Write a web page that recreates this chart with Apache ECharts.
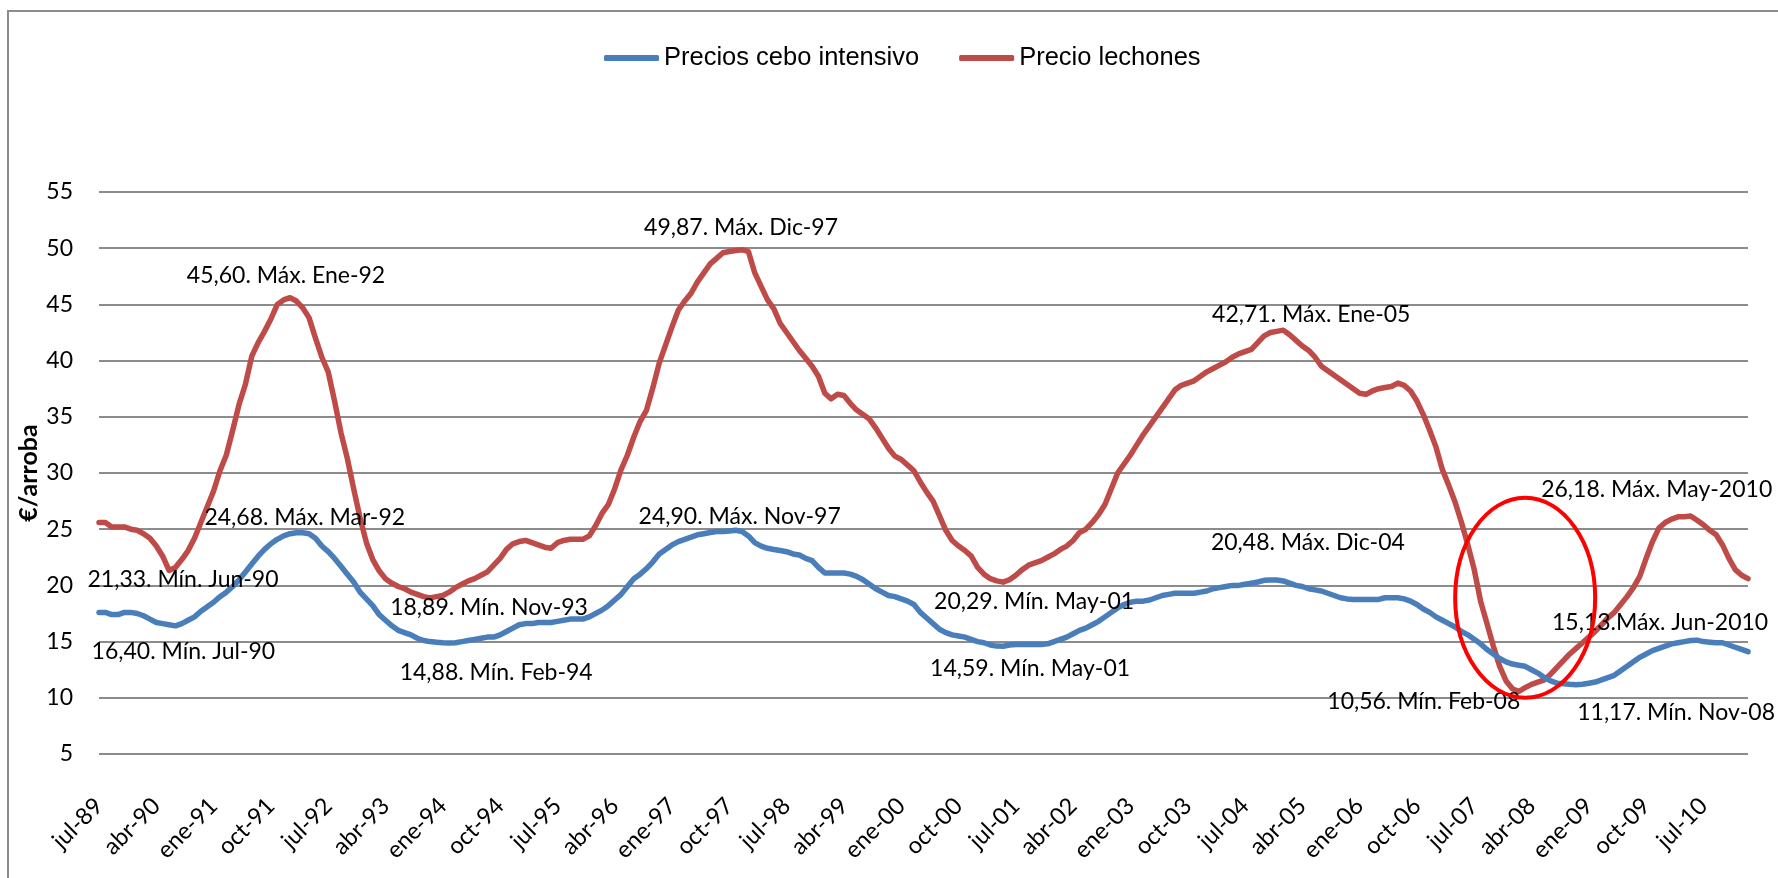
<!DOCTYPE html>
<html>
<head>
<meta charset="utf-8">
<script src="https://cdn.jsdelivr.net/npm/echarts@6/dist/echarts.min.js"></script>
<style>
  html, body { margin: 0; padding: 0; background: #fff; }
  #chart { width: 1778px; height: 878px; }
</style>
</head>
<body>
<div id="chart"></div>
<script>
// Monthly series, jul-89 .. feb-11 (€/arroba)
const monthNames = ['ene', 'feb', 'mar', 'abr', 'may', 'jun', 'jul', 'ago', 'sep', 'oct', 'nov', 'dic'];
const firstYear = 1989;
const firstMonth = 6; // julio

const ceboIntensivo = [
  17.6, 17.6, 17.4, 17.4, 17.6, 17.6, 17.5, 17.3, 17.0, 16.7,
  16.6, 16.5, 16.40, 16.6, 16.9, 17.2, 17.7, 18.1, 18.5, 19.0,
  19.4, 19.9, 20.5, 21.2, 21.9, 22.6, 23.2, 23.7, 24.1, 24.4,
  24.6, 24.68, 24.68, 24.6, 24.2, 23.5, 23.0, 22.4, 21.7, 21.0,
  20.3, 19.4, 18.8, 18.2, 17.4, 16.9, 16.4, 16.0, 15.8, 15.6,
  15.3, 15.1, 15.0, 14.95, 14.9, 14.88, 14.9, 15.0, 15.1, 15.2,
  15.3, 15.4, 15.4, 15.6, 15.9, 16.2, 16.5, 16.6, 16.6, 16.7,
  16.7, 16.7, 16.8, 16.9, 17.0, 17.0, 17.0, 17.2, 17.5, 17.8,
  18.2, 18.7, 19.2, 19.9, 20.6, 21.0, 21.5, 22.1, 22.8, 23.2,
  23.6, 23.9, 24.1, 24.3, 24.5, 24.6, 24.7, 24.8, 24.8, 24.85,
  24.90, 24.8, 24.4, 23.8, 23.5, 23.3, 23.2, 23.1, 23.0, 22.8,
  22.7, 22.4, 22.2, 21.6, 21.1, 21.1, 21.1, 21.1, 21.0, 20.8,
  20.5, 20.1, 19.7, 19.4, 19.1, 19.0, 18.8, 18.6, 18.3, 17.6,
  17.1, 16.6, 16.1, 15.8, 15.6, 15.5, 15.4, 15.2, 15.0, 14.9,
  14.7, 14.6, 14.59, 14.7, 14.75, 14.75, 14.75, 14.75, 14.75, 14.8,
  15.0, 15.2, 15.4, 15.7, 16.0, 16.2, 16.5, 16.8, 17.2, 17.6,
  18.0, 18.3, 18.5, 18.6, 18.6, 18.7, 18.9, 19.1, 19.2, 19.3,
  19.3, 19.3, 19.3, 19.4, 19.5, 19.7, 19.8, 19.9, 20.0, 20.0,
  20.1, 20.2, 20.3, 20.45, 20.48, 20.48, 20.4, 20.2, 20.0, 19.9,
  19.7, 19.6, 19.5, 19.3, 19.1, 18.9, 18.8, 18.75, 18.75, 18.75,
  18.75, 18.75, 18.9, 18.9, 18.9, 18.8, 18.6, 18.3, 17.9, 17.6,
  17.2, 16.9, 16.6, 16.3, 15.9, 15.6, 15.2, 14.8, 14.3, 13.9,
  13.5, 13.2, 13.0, 12.9, 12.8, 12.5, 12.2, 11.8, 11.5, 11.3,
  11.25, 11.2, 11.17, 11.2, 11.3, 11.4, 11.6, 11.8, 12.0, 12.4,
  12.8, 13.2, 13.6, 13.9, 14.2, 14.4, 14.6, 14.8, 14.9, 15.0,
  15.1, 15.13, 15.0, 14.95, 14.9, 14.9, 14.7, 14.5, 14.3, 14.1
];

const precioLechones = [
  25.6, 25.6, 25.2, 25.2, 25.2, 25.0, 24.9, 24.6, 24.2, 23.5,
  22.6, 21.33, 21.6, 22.3, 23.1, 24.2, 25.6, 27.0, 28.4, 30.2,
  31.6, 33.8, 36.1, 37.9, 40.4, 41.6, 42.6, 43.7, 45.0, 45.4,
  45.60, 45.3, 44.7, 43.8, 42.0, 40.3, 39.0, 36.4, 33.6, 31.3,
  28.6, 26.0, 23.8, 22.3, 21.3, 20.6, 20.2, 19.9, 19.7, 19.4,
  19.2, 19.0, 18.89, 19.0, 19.1, 19.4, 19.8, 20.1, 20.4, 20.6,
  20.9, 21.2, 21.8, 22.4, 23.2, 23.7, 23.9, 24.0, 23.8, 23.6,
  23.4, 23.3, 23.8, 24.0, 24.1, 24.1, 24.1, 24.4, 25.3, 26.4,
  27.2, 28.6, 30.3, 31.6, 33.2, 34.6, 35.6, 37.6, 39.8, 41.4,
  43.0, 44.5, 45.3, 46.0, 47.0, 47.8, 48.6, 49.1, 49.6, 49.7,
  49.8, 49.87, 49.7, 47.8, 46.6, 45.4, 44.6, 43.3, 42.5, 41.7,
  40.9, 40.2, 39.5, 38.6, 37.1, 36.6, 37.0, 36.9, 36.2, 35.6,
  35.2, 34.8, 34.0, 33.1, 32.2, 31.5, 31.2, 30.7, 30.2, 29.2,
  28.3, 27.5, 26.2, 24.9, 24.0, 23.5, 23.1, 22.6, 21.6, 21.0,
  20.6, 20.4, 20.29, 20.5, 20.9, 21.4, 21.8, 22.0, 22.2, 22.5,
  22.8, 23.2, 23.5, 24.0, 24.7, 25.0, 25.6, 26.3, 27.2, 28.6,
  30.0, 30.8, 31.6, 32.5, 33.4, 34.2, 35.0, 35.8, 36.6, 37.4,
  37.8, 38.0, 38.2, 38.6, 39.0, 39.3, 39.6, 39.9, 40.3, 40.6,
  40.8, 41.0, 41.6, 42.2, 42.5, 42.6, 42.71, 42.3, 41.8, 41.3,
  40.9, 40.3, 39.5, 39.1, 38.7, 38.3, 37.9, 37.5, 37.1, 37.0,
  37.3, 37.5, 37.6, 37.7, 38.0, 37.8, 37.3, 36.4, 35.2, 33.8,
  32.3, 30.3, 28.9, 27.4, 25.6, 23.6, 21.4, 18.6, 16.6, 14.6,
  12.8, 11.5, 10.8, 10.56, 10.9, 11.2, 11.4, 11.6, 12.1, 12.7,
  13.3, 13.9, 14.4, 14.9, 15.4, 15.9, 16.5, 17.1, 17.6, 18.3,
  19.0, 19.8, 20.8, 22.4, 23.9, 25.1, 25.6, 25.9, 26.1, 26.1,
  26.18, 25.8, 25.4, 24.9, 24.5, 23.6, 22.4, 21.4, 20.9, 20.6
];

// Highlighted extremes: month and caption after the value
const extremosCebo = [
  { month: 'jul-90', tag: 'Mín. Jul-90' },
  { month: 'mar-92', tag: 'Máx. Mar-92' },
  { month: 'feb-94', tag: 'Mín. Feb-94' },
  { month: 'nov-97', tag: 'Máx. Nov-97' },
  { month: 'may-01', tag: 'Mín. May-01' },
  { month: 'dic-04', tag: 'Máx. Dic-04' },
  { month: 'nov-08', tag: 'Mín. Nov-08' },
  { month: 'jun-10', tag: 'Máx. Jun-2010', sep: '' }
];
const extremosLechones = [
  { month: 'jun-90', tag: 'Mín. Jun-90' },
  { month: 'ene-92', tag: 'Máx. Ene-92' },
  { month: 'nov-93', tag: 'Mín. Nov-93' },
  { month: 'dic-97', tag: 'Máx. Dic-97' },
  { month: 'may-01', tag: 'Mín. May-01' },
  { month: 'ene-05', tag: 'Máx. Ene-05' },
  { month: 'feb-08', tag: 'Mín. Feb-08' },
  { month: 'may-10', tag: 'Máx. May-2010' }
];

// Label placement (pixel offset of the caption centre from its point)
const offsetsCebo = {
  'jul-90': [8, 26], 'mar-92': [2, -15], 'feb-94': [47, 30], 'nov-97': [4, -14],
  'may-01': [27, 22], 'dic-04': [31, -37], 'nov-08': [100, 28], 'jun-10': [-37, -18]
};
const offsetsLechones = {
  'jun-90': [14, 9], 'ene-92': [-4, -22], 'nov-93': [59, 10], 'dic-97': [-1, -22],
  'may-01': [31, 19], 'ene-05': [28, -16], 'feb-08': [-95, 10], 'may-10': [-34, -26]
};

const months = ceboIntensivo.map(function (_, i) {
  const m = firstMonth + i;
  const year = firstYear + Math.floor(m / 12);
  return monthNames[m % 12] + '-' + String(year % 100).padStart(2, '0');
});

function fmt(v) { return v.toFixed(2).replace('.', ','); }

function marks(values, list, offsets) {
  return list.map(function (e) {
    const idx = months.indexOf(e.month);
    const v = values[idx];
    return {
      coord: [idx, v],
      label: {
        formatter: fmt(v) + '.' + (e.sep === undefined ? ' ' : e.sep) + e.tag,
        offset: offsets[e.month]
      }
    };
  });
}

const labelFont = 'Lato, "Noto Sans", sans-serif';
const markStyle = {
  symbol: 'circle',
  symbolSize: 1,
  itemStyle: { color: 'rgba(0,0,0,0)' },
  label: {
    show: true,
    position: 'inside',
    color: '#000',
    fontFamily: labelFont,
    fontSize: 23
  },
  animation: false
};

const chart = echarts.init(document.getElementById('chart'), null, { renderer: 'canvas' });

chart.setOption({
  animation: false,
  backgroundColor: '#fff',
  legend: {
    top: 40,
    left: 599,
    icon: 'roundRect',
    itemWidth: 55,
    itemHeight: 6,
    itemGap: 40,
    textStyle: { fontFamily: '"Liberation Sans", Arial, sans-serif', fontSize: 25.5, color: '#000' },
    data: ['Precios cebo intensivo', 'Precio lechones']
  },
  grid: { left: 99, right: 30, top: 192, bottom: 124, containLabel: false },
  xAxis: {
    type: 'category',
    boundaryGap: false,
    data: months,
    axisLine: { show: false },
    axisTick: { show: false },
    axisLabel: {
      interval: 8,
      rotate: 45,
      margin: 48,
      color: '#000',
      fontFamily: labelFont,
      fontSize: 23.5
    },
    splitLine: { show: false }
  },
  yAxis: {
    type: 'value',
    min: 5,
    max: 55,
    interval: 5,
    name: '€/arroba',
    nameLocation: 'middle',
    nameRotate: 90,
    nameGap: 58,
    nameMoveOverlap: false,
    nameTextStyle: { fontFamily: labelFont, fontSize: 25, fontWeight: 'bold', color: '#000' },
    axisLine: { show: false },
    axisTick: { show: false },
    axisLabel: { margin: 26, color: '#000', fontFamily: labelFont, fontSize: 23 },
    splitLine: { lineStyle: { color: '#8c8c8c', width: 2 } }
  },
  series: [
    {
      name: 'Precios cebo intensivo',
      type: 'line',
      data: ceboIntensivo,
      showSymbol: false,
      symbol: 'none',
      color: '#4A7EBB',
      lineStyle: { width: 5.5, color: '#4A7EBB', join: 'round', cap: 'round' },
      z: 3,
      markPoint: Object.assign({ data: marks(ceboIntensivo, extremosCebo, offsetsCebo) }, markStyle)
    },
    {
      name: 'Precio lechones',
      type: 'line',
      data: precioLechones,
      showSymbol: false,
      symbol: 'none',
      color: '#BE4B48',
      lineStyle: { width: 5.5, color: '#BE4B48', join: 'round', cap: 'round' },
      z: 2,
      markPoint: Object.assign({ data: marks(precioLechones, extremosLechones, offsetsLechones) }, markStyle)
    }
  ]
});

// Chart frame plus the ring around the 2008 lows of "Precio lechones"
const ringCentre = chart.convertToPixel({ gridIndex: 0 }, [months.indexOf('mar-08'), 18.9]);
chart.setOption({
  graphic: [
    {
      type: 'rect',
      silent: true,
      z: -1,
      shape: { x: 8, y: 11, width: 1900, height: 1000 },
      style: { fill: 'none', stroke: '#8c8c8c', lineWidth: 2 }
    },
    {
      type: 'ellipse',
      silent: true,
      z: 10,
      shape: { cx: ringCentre[0], cy: ringCentre[1], rx: 70, ry: 100 },
      style: { fill: 'none', stroke: '#FF0000', lineWidth: 4 }
    }
  ]
});
</script>
</body>
</html>
